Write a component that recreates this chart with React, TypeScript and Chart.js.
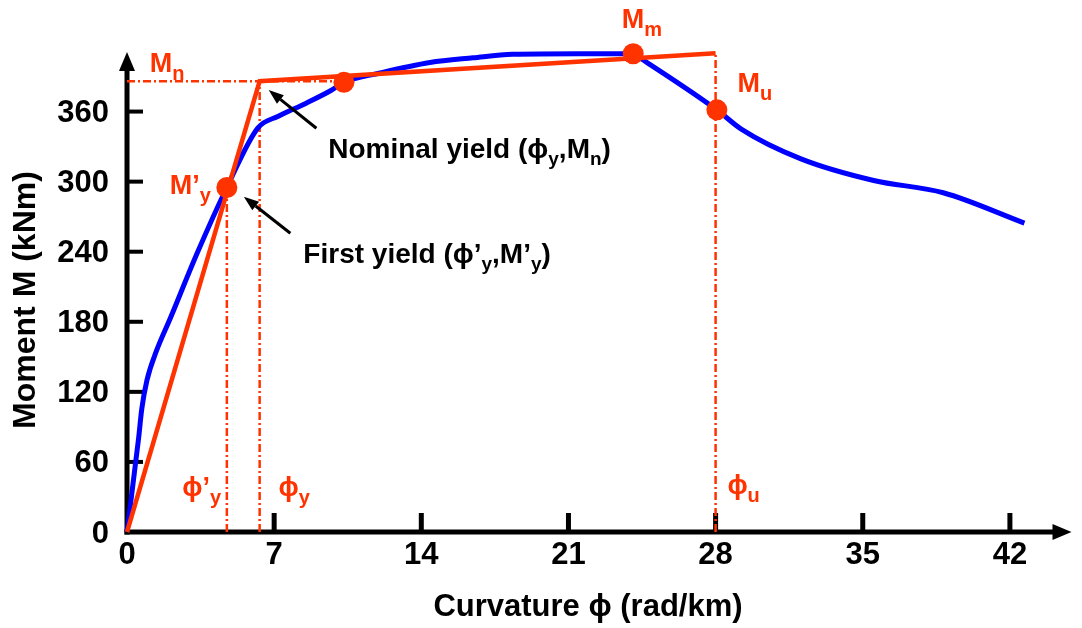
import { useEffect, useRef } from 'react';
import { Chart, registerables } from 'chart.js';

Chart.register(...registerables);

const RED = '#ff3300';
const BLUE = '#0000ff';
const FONT = '"Liberation Sans", Arial, Helvetica, sans-serif';

// Axis ticks
const curvatureTicks = [0, 7, 14, 21, 28, 35, 42];
const momentTicks = [0, 60, 120, 180, 240, 300, 360];

// Measured moment-curvature response (blue)
const curveCurvature = [0, 0.55, 0.7, 0.95, 1.4, 2.06, 3.32, 4.75, 6.23, 7.2, 8.5, 9.7, 10.32, 12.03, 14.41, 16.46, 18.34, 21.47, 24.08, 24.48, 28.06, 29.22, 32.06, 35.52, 38.83, 42.69];
const curveMoment = [0, 80, 105, 130, 155, 183, 238, 295, 346, 356, 367, 378, 385, 393, 402, 406, 409, 409.5, 409.5, 405, 361.5, 345, 319.5, 301, 290.5, 264.5];

// Idealised bilinear response (red)
const bilinearCurvature = [0, 6.31, 28];
const bilinearMoment = [0, 386, 410];

// Key points (red dots)
const keyCurvature = [4.75, 10.32, 24.08, 28.06];
const keyMoment = [295, 385, 409.5, 361.5];

// Dash-dot reference lines
const mnLineCurvature = [0, 10.3];
const mnLineMoment = [386, 386];
const firstYieldLineCurvature = [4.75, 4.75];
const firstYieldLineMoment = [0, 295];
const yieldLineCurvature = [6.31, 6.31];
const yieldLineMoment = [0, 386];
const ultimateLineCurvature = [28, 28];
const ultimateLineMoment = [0, 410];

type Part = { t: string; sub?: boolean };

// Red symbol labels, anchored in data units (left, baseline)
const redLabels: { parts: Part[]; x: number; y: number }[] = [
  { parts: [{ t: 'M' }, { t: 'n', sub: true }], x: 1.08, y: 394 },
  { parts: [{ t: 'M\u2019' }, { t: 'y', sub: true }], x: 2.03, y: 289.4 },
  { parts: [{ t: 'M' }, { t: 'm', sub: true }], x: 23.53, y: 431.3 },
  { parts: [{ t: 'M' }, { t: 'u', sub: true }], x: 29.04, y: 377 },
  { parts: [{ t: '\u03D5\u2019' }, { t: 'y', sub: true }], x: 2.63, y: 30.8 },
  { parts: [{ t: '\u03D5' }, { t: 'y', sub: true }], x: 7.21, y: 30.8 },
  { parts: [{ t: '\u03D5' }, { t: 'u', sub: true }], x: 28.56, y: 32.5 },
];

// Black annotations
const notes: { parts: Part[]; x: number; y: number }[] = [
  { parts: [{ t: 'Nominal yield (\u03D5' }, { t: 'y', sub: true }, { t: ',M' }, { t: 'n', sub: true }, { t: ')' }], x: 9.57, y: 320 },
  { parts: [{ t: 'First yield (\u03D5\u2019' }, { t: 'y', sub: true }, { t: ',M\u2019' }, { t: 'y', sub: true }, { t: ')' }], x: 8.39, y: 230 },
];
const arrowFrom = [[9.01, 345.7], [7.77, 255.8]];
const arrowTo = [[6.74, 378.4], [5.56, 287.1]];

const xTitle = 'Curvature \u03D5 (rad/km)';
const yTitle = 'Moment M (kNm)';

const zip = (xs: number[], ys: number[]) => xs.map((x, i) => ({ x, y: ys[i] }));

function drawRich(ctx: CanvasRenderingContext2D, parts: Part[], x: number, y: number, size: number, subSize: number, drop: number, color: string) {
  ctx.fillStyle = color;
  ctx.textAlign = 'left';
  ctx.textBaseline = 'alphabetic';
  let cx = x;
  for (const p of parts) {
    ctx.font = `bold ${p.sub ? subSize : size}px ${FONT}`;
    ctx.fillText(p.t, cx, p.sub ? y + drop : y);
    cx += ctx.measureText(p.t).width;
  }
}

function drawArrow(ctx: CanvasRenderingContext2D, x1: number, y1: number, x2: number, y2: number) {
  const ang = Math.atan2(y2 - y1, x2 - x1);
  const len = 15;
  const half = 5.5;
  const bx = x2 - len * Math.cos(ang);
  const by = y2 - len * Math.sin(ang);
  ctx.strokeStyle = '#000';
  ctx.fillStyle = '#000';
  ctx.lineWidth = 3;
  ctx.beginPath();
  ctx.moveTo(x1, y1);
  ctx.lineTo(bx, by);
  ctx.stroke();
  ctx.beginPath();
  ctx.moveTo(x2, y2);
  ctx.lineTo(bx + half * Math.sin(ang), by - half * Math.cos(ang));
  ctx.lineTo(bx - half * Math.sin(ang), by + half * Math.cos(ang));
  ctx.closePath();
  ctx.fill();
}

const decorPlugin = {
  id: 'decor',
  beforeDatasetsDraw(chart: any) {
    const { ctx, chartArea } = chart;
    const { left, right, top, bottom } = chartArea;
    const xs = chart.scales.x;
    const ys = chart.scales.y;
    ctx.save();
    ctx.strokeStyle = '#000';
    ctx.fillStyle = '#000';
    ctx.lineWidth = 5;
    ctx.beginPath();
    ctx.moveTo(left, bottom + 2.5);
    ctx.lineTo(left, top + 15);
    ctx.stroke();
    ctx.beginPath();
    ctx.moveTo(left, top);
    ctx.lineTo(left - 8, top + 19);
    ctx.lineTo(left + 8, top + 19);
    ctx.closePath();
    ctx.fill();
    ctx.beginPath();
    ctx.moveTo(left - 2.5, bottom);
    ctx.lineTo(right - 15, bottom);
    ctx.stroke();
    ctx.beginPath();
    ctx.moveTo(right, bottom);
    ctx.lineTo(right - 19, bottom - 8);
    ctx.lineTo(right - 19, bottom + 8);
    ctx.closePath();
    ctx.fill();
    ctx.lineWidth = 4;
    for (const v of momentTicks) {
      if (v === 0) continue;
      const py = ys.getPixelForValue(v);
      ctx.beginPath();
      ctx.moveTo(left, py);
      ctx.lineTo(left + 16, py);
      ctx.stroke();
    }
    ctx.lineWidth = 5;
    for (const v of curvatureTicks) {
      if (v === 0) continue;
      const px = xs.getPixelForValue(v);
      ctx.beginPath();
      ctx.moveTo(px, bottom);
      ctx.lineTo(px, bottom - 19);
      ctx.stroke();
    }
    ctx.restore();
  },
  afterDatasetsDraw(chart: any) {
    const { ctx } = chart;
    const xs = chart.scales.x;
    const ys = chart.scales.y;
    ctx.save();
    for (const l of redLabels) {
      drawRich(ctx, l.parts, xs.getPixelForValue(l.x), ys.getPixelForValue(l.y), 27, 20, 8, RED);
    }
    for (const n of notes) {
      drawRich(ctx, n.parts, xs.getPixelForValue(n.x), ys.getPixelForValue(n.y), 28, 19, 7, '#000');
    }
    arrowFrom.forEach((f, i) => {
      const t = arrowTo[i];
      drawArrow(ctx, xs.getPixelForValue(f[0]), ys.getPixelForValue(f[1]), xs.getPixelForValue(t[0]), ys.getPixelForValue(t[1]));
    });
    // axis titles
    ctx.fillStyle = '#000';
    ctx.font = `bold 31px ${FONT}`;
    ctx.textAlign = 'center';
    ctx.textBaseline = 'alphabetic';
    ctx.fillText(xTitle, 588, 616);
    ctx.translate(35, 300);
    ctx.rotate(-Math.PI / 2);
    ctx.font = `bold 32px ${FONT}`;
    ctx.fillText(yTitle, 0, 0);
    ctx.restore();
  },
};

const dashed = (xs: number[], ys: number[]) => ({
  data: zip(xs, ys),
  borderColor: RED,
  borderWidth: 2.5,
  borderDash: [8, 3, 2, 3],
  pointRadius: 0,
  fill: false,
  order: 3,
  clip: false,
});

export default function App() {
  const ref = useRef<HTMLCanvasElement>(null);
  useEffect(() => {
    const tickFont = { family: FONT, size: 31, weight: 'bold' as const };
    const chart = new Chart(ref.current as HTMLCanvasElement, {
      type: 'line',
      data: {
        datasets: [
          {
            data: zip(keyCurvature, keyMoment),
            showLine: false,
            pointRadius: 10.5,
            pointBackgroundColor: RED,
            pointBorderWidth: 0,
            pointBorderColor: RED,
            order: 0,
            clip: false,
          } as any,
          {
            data: zip(bilinearCurvature, bilinearMoment),
            borderColor: RED,
            borderWidth: 4.5,
            borderJoinStyle: 'miter',
            pointRadius: 0,
            tension: 0,
            order: 1,
            clip: false,
          },
          {
            data: zip(curveCurvature, curveMoment),
            borderColor: BLUE,
            borderWidth: 5,
            pointRadius: 0,
            cubicInterpolationMode: 'monotone',
            order: 2,
            clip: false,
          },
          dashed(mnLineCurvature, mnLineMoment),
          dashed(firstYieldLineCurvature, firstYieldLineMoment),
          dashed(yieldLineCurvature, yieldLineMoment),
          dashed(ultimateLineCurvature, ultimateLineMoment),
        ] as any,
      },
      options: {
        animation: false,
        responsive: false,
        events: [],
        layout: { padding: { left: 0, right: 2, top: 52, bottom: 0 } },
        plugins: {
          legend: { display: false },
          tooltip: { enabled: false },
          title: { display: false },
        },
        scales: {
          x: {
            type: 'linear',
            min: 0,
            max: 44.93,
            grid: { display: false, drawTicks: false },
            border: { display: false },
            afterBuildTicks: (s: any) => {
              s.ticks = curvatureTicks.map((v) => ({ value: v }));
            },
            afterFit: (s: any) => {
              s.height = 96;
            },
            ticks: {
              font: tickFont,
              color: '#000',
              padding: 5,
              maxRotation: 0,
              autoSkip: false,
              callback: (v: any) => String(v),
            },
          },
          y: {
            type: 'linear',
            min: 0,
            max: 411,
            grid: { display: false, drawTicks: false },
            border: { display: false },
            afterBuildTicks: (s: any) => {
              s.ticks = momentTicks.map((v) => ({ value: v }));
            },
            afterFit: (s: any) => {
              s.width = 127;
            },
            ticks: {
              font: tickFont,
              color: '#000',
              padding: 18,
              labelOffset: 2,
              autoSkip: false,
              callback: (v: any) => String(v),
            },
          },
        },
      } as any,
      plugins: [decorPlugin],
    });
    return () => chart.destroy();
  }, []);
  return (
    <div style={{ position: 'fixed', left: 0, top: 0, width: 1082, height: 628, background: '#fff' }}>
      <canvas ref={ref} width={1082} height={628} style={{ display: 'block', width: 1082, height: 628 }} />
    </div>
  );
}
